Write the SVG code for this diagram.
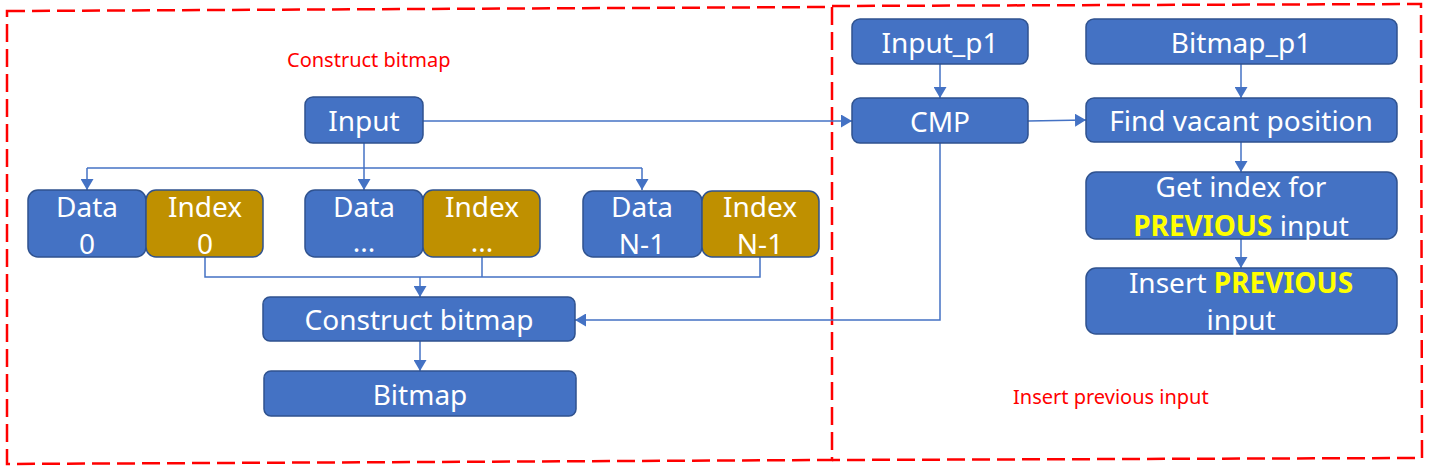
<svg xmlns="http://www.w3.org/2000/svg" width="1434" height="472" viewBox="0 0 1434 472">
<defs>
<style>
.frame{fill:none;stroke:#FF0000;stroke-width:2.5;stroke-dasharray:18 7}
.blue{fill:#4472C4;stroke:#2F528F;stroke-width:1.5}
.gold{fill:#BF9000;stroke:#2F528F;stroke-width:1.5}
.t{font-family:"Noto Sans","DejaVu Sans",sans-serif;font-size:28px;fill:#FFFFFF;text-anchor:middle}
.y{fill:#FFFF00;font-weight:bold}
.lbl{font-family:"Noto Sans","DejaVu Sans",sans-serif;font-size:20px;fill:#FF0000}
.c{fill:none;stroke:#4472C4;stroke-width:1.5}
</style>
<marker id="arr" viewBox="0 0 11 13" refX="11" refY="6.5" markerWidth="11" markerHeight="13" markerUnits="userSpaceOnUse" orient="auto">
<path d="M0,0 L11,6.5 L0,13 z" fill="#4472C4"/>
</marker>
</defs>
<rect width="1434" height="472" fill="#FFFFFF"/>
<g id="frames">
<path class="frame" d="M7,11 L832,7 L832,460 L7,464 Z"/>
<path class="frame" d="M832,6 L1421,4 L1422,458 L832,460"/>
</g>
<text class="lbl" x="287" y="67">Construct bitmap</text>
<text class="lbl" x="1013" y="404">Insert previous input</text>
<g id="connectors">
<path class="c" d="M364,143 L364,168"/>
<path class="c" d="M87,168 L642,168"/>
<path class="c" d="M87,168 L87,190" marker-end="url(#arr)"/>
<path class="c" d="M364,168 L364,190" marker-end="url(#arr)"/>
<path class="c" d="M642,168 L642,190" marker-end="url(#arr)"/>
<path class="c" d="M205,257 L205,277 L760,277 L760,257"/>
<path class="c" d="M482,257 L482,277"/>
<path class="c" d="M420,277 L420,297" marker-end="url(#arr)"/>
<path class="c" d="M420,341 L420,371" marker-end="url(#arr)"/>
<path class="c" d="M423,121 L852,121" marker-end="url(#arr)"/>
<path class="c" d="M940,64 L940,98" marker-end="url(#arr)"/>
<path class="c" d="M1028,121 L1086,120" marker-end="url(#arr)"/>
<path class="c" d="M1241,64 L1241,98" marker-end="url(#arr)"/>
<path class="c" d="M1241,142 L1241,172" marker-end="url(#arr)"/>
<path class="c" d="M1241,239 L1241,268" marker-end="url(#arr)"/>
<path class="c" d="M940,143 L940,320 L575,320" marker-end="url(#arr)"/>
</g>
<g id="input"><rect class="blue" x="305" y="97" width="118" height="46" rx="8"/><text class="t" x="364" y="131">Input</text></g>
<g id="data0"><rect class="blue" x="28" y="190" width="118" height="67" rx="10"/><text class="t" x="87" y="217">Data</text><text class="t" x="87" y="254">0</text></g>
<g id="index0"><rect class="gold" x="146" y="190" width="117" height="67" rx="10"/><text class="t" x="205" y="217">Index</text><text class="t" x="205" y="254">0</text></g>
<g id="datadots"><rect class="blue" x="305" y="190" width="118" height="67" rx="10"/><text class="t" x="364" y="217">Data</text><text class="t" x="364" y="252">...</text></g>
<g id="indexdots"><rect class="gold" x="423" y="190" width="117" height="67" rx="10"/><text class="t" x="482" y="217">Index</text><text class="t" x="482" y="252">...</text></g>
<g id="dataN1"><rect class="blue" x="583" y="191" width="119" height="66" rx="10"/><text class="t" x="642" y="217">Data</text><text class="t" x="642" y="254">N-1</text></g>
<g id="indexN1"><rect class="gold" x="702" y="191" width="117" height="66" rx="10"/><text class="t" x="760" y="217">Index</text><text class="t" x="760" y="254">N-1</text></g>
<g id="construct"><rect class="blue" x="263" y="297" width="312" height="44" rx="7"/><text class="t" x="419" y="330">Construct bitmap</text></g>
<g id="bitmap"><rect class="blue" x="264" y="371" width="312" height="45" rx="7"/><text class="t" x="420" y="405">Bitmap</text></g>
<g id="inputp1"><rect class="blue" x="852" y="19" width="176" height="45" rx="8"/><text class="t" x="940" y="53">Input_p1</text></g>
<g id="cmp"><rect class="blue" x="852" y="98" width="176" height="45" rx="8"/><text class="t" x="940" y="132">CMP</text></g>
<g id="bitmapp1"><rect class="blue" x="1086" y="19" width="311" height="45" rx="8"/><text class="t" x="1241" y="53">Bitmap_p1</text></g>
<g id="findvacant"><rect class="blue" x="1086" y="98" width="311" height="44" rx="8"/><text class="t" x="1241" y="131">Find vacant position</text></g>
<g id="getindex"><rect class="blue" x="1086" y="172" width="311" height="67" rx="10"/><text class="t" x="1241" y="197">Get index for</text><text class="t" x="1241" y="236"><tspan class="y">PREVIOUS</tspan> input</text></g>
<g id="insert"><rect class="blue" x="1086" y="268" width="311" height="66" rx="10"/><text class="t" x="1241" y="293">Insert <tspan class="y">PREVIOUS</tspan></text><text class="t" x="1241" y="330">input</text></g>
</svg>
